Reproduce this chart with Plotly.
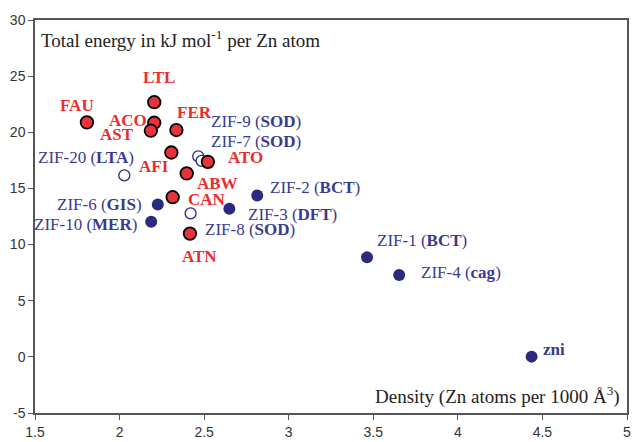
import plotly.graph_objects as go

# ---------------- data ----------------
zeo_names = ["FAU", "LTL", "ACO", "AST", "FER", "AFI", "ATO", "ABW", "CAN", "ATN"]
zeo_density = [1.807, 2.205, 2.205, 2.185, 2.336, 2.306, 2.522, 2.397, 2.314, 2.416]
zeo_energy = [20.88, 22.68, 20.85, 20.14, 20.20, 18.20, 17.37, 16.34, 14.22, 10.98]

zif_open_names = ["ZIF-20 (<b>LTA</b>)", "ZIF-9 (<b>SOD</b>)", "ZIF-7 (<b>SOD</b>)", "ZIF-8 (<b>SOD</b>)"]
zif_open_density = [2.028, 2.465, 2.485, 2.420]
zif_open_energy = [16.16, 17.86, 17.46, 12.78]

zif_filled_names = ["ZIF-6 (<b>GIS</b>)", "ZIF-10 (<b>MER</b>)", "ZIF-3 (<b>DFT</b>)",
                    "ZIF-2 (<b>BCT</b>)", "ZIF-1 (<b>BCT</b>)", "ZIF-4 (<b>cag</b>)", "<b>zni</b>"]
zif_filled_density = [2.226, 2.187, 2.649, 2.814, 3.463, 3.653, 4.436]
zif_filled_energy = [13.57, 12.04, 13.19, 14.37, 8.86, 7.29, 0.02]

x_ticks = [1.5, 2, 2.5, 3, 3.5, 4, 4.5, 5]
y_ticks = [-5, 0, 5, 10, 15, 20, 25, 30]

y_title = "Total energy in kJ mol<sup>-1</sup> per Zn atom"
x_title = "Density (Zn atoms per 1000 Å<sup>3</sup>)"

# ---------------- label placement (style) ----------------
# (xanchor, xshift px, yshift px)
zeo_label_pos = [("center", -10, 17), ("center", 5, 25), ("right", -5, 2), ("right", -15, -4),
                 ("left", -1, 18), ("right", 0, -14), ("left", 18, 4), ("left", 8, -10),
                 ("left", 13, -2), ("center", 10, -23)]
open_label_pos = [("right", 12, 18), ("left", 11, 35), ("left", 7, 19), ("left", 12, -16)]
filled_label_pos = [("right", -14, 0), ("right", -12, -3), ("left", 17, -6), ("left", 11, 8),
                    ("left", 8, 17), ("left", 20, 3), ("left", 9, 7)]

RED = "#e8323c"
RED_TXT = "#ee2b2b"
NAVY = "#2b2a7e"
NAVY_TXT = "#3b3a8e"
SERIF = "Liberation Serif"
SANS = "Liberation Sans"

fig = go.Figure()
fig.add_trace(go.Scatter(x=zif_filled_density, y=zif_filled_energy, mode="markers",
                         marker=dict(size=12, color=NAVY, line=dict(width=0)),
                         hoverinfo="skip", showlegend=False))
fig.add_trace(go.Scatter(x=zif_open_density, y=zif_open_energy, mode="markers",
                         marker=dict(size=11, color="white", line=dict(width=1.3, color=NAVY)),
                         hoverinfo="skip", showlegend=False))
fig.add_trace(go.Scatter(x=zeo_density, y=zeo_energy, mode="markers",
                         marker=dict(size=12.5, color=RED, line=dict(width=1.8, color="black")),
                         hoverinfo="skip", showlegend=False))

annotations = []
for names, xs, ys, pos, col in [
    (zeo_names, zeo_density, zeo_energy, zeo_label_pos, RED_TXT),
    (zif_open_names, zif_open_density, zif_open_energy, open_label_pos, NAVY_TXT),
    (zif_filled_names, zif_filled_density, zif_filled_energy, filled_label_pos, NAVY_TXT),
]:
    for n, x, y, (xa, dx, dy) in zip(names, xs, ys, pos):
        txt = f"<b>{n}</b>" if col == RED_TXT else n
        annotations.append(dict(x=x, y=y, xref="x", yref="y", text=txt, showarrow=False,
                                xanchor=xa, yanchor="middle", xshift=dx, yshift=dy,
                                font=dict(family=SERIF, size=17, color=col)))

annotations.append(dict(x=0, y=1, xref="paper", yref="paper", text=y_title, showarrow=False,
                        xanchor="left", yanchor="top", xshift=4, yshift=-5,
                        font=dict(family=SERIF, size=19, color="#222")))
annotations.append(dict(x=1, y=0, xref="paper", yref="paper", text=x_title, showarrow=False,
                        xanchor="right", yanchor="bottom", xshift=-5, yshift=3,
                        font=dict(family=SERIF, size=19, color="#222")))

axis_common = dict(showgrid=False, zeroline=False, showline=True, linecolor="#555", linewidth=1.5,
                   mirror=True, ticks="outside", ticklen=5, tickwidth=1, tickcolor="#555",
                   tickfont=dict(family=SANS, size=14, color="#333"))

fig.update_layout(
    width=633, height=442,
    margin=dict(l=35, r=2, t=20, b=26),
    paper_bgcolor="white", plot_bgcolor="white",
    font=dict(family=SERIF),
    xaxis=dict(range=[1.5, 5], tickvals=x_ticks, ticktext=[str(v) for v in x_ticks],
               ticklabeloverflow="allow", **axis_common),
    yaxis=dict(range=[-5, 30], tickvals=y_ticks, ticktext=[str(v) for v in y_ticks], **axis_common),
    annotations=annotations,
)

fig.write_html("out.html")
